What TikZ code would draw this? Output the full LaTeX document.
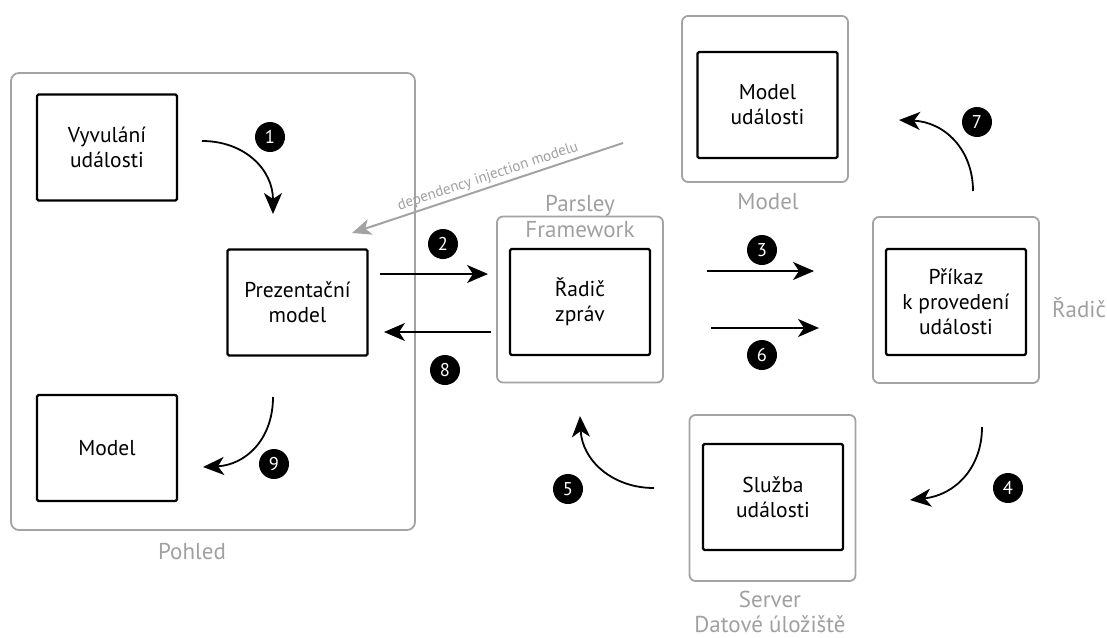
\documentclass[tikz,border=0pt]{standalone}
\usepackage{fontspec}
\setmainfont{PT Sans}
\usetikzlibrary{arrows.meta}
\definecolor{framegray}{HTML}{A3A3A3}
\definecolor{labelgray}{HTML}{A0A0A0}
\begin{document}
\begin{tikzpicture}[x=1pt,y=-1pt,
  inner/.style={draw=black,line width=2.2pt,rounded corners=1.5pt,fill=white,
    minimum width=140pt,minimum height=106pt,align=center,
    font=\fontsize{21.5}{25}\selectfont},
  outer/.style={draw=framegray,line width=1.8pt,rounded corners=6pt,
    minimum width=166pt,minimum height=166pt},
  grouplabel/.style={text=labelgray,anchor=base,inner sep=0pt,
    font=\fontsize{23}{26}\selectfont},
  stepnum/.style={circle,fill=black,text=white,inner sep=0pt,minimum size=30pt,
    font=\fontsize{18.5}{18.5}\selectfont},
  flow/.style={line width=1.8pt,-{Stealth[length=21pt,width=18pt,inset=6pt]}},
  inject/.style={draw=framegray,line width=2pt,-{Stealth[length=19pt,width=16pt,inset=5pt]}}]
\useasboundingbox (0,0) rectangle (1107,637);

% View group
\draw[draw=framegray,line width=1.8pt,rounded corners=8pt] (11,73) rectangle (415,530);
\node[grouplabel] (lview) at (192,559) {Pohled};
\node[inner] (trigger) at (107,147.5) {Vyvulání\\události};
\node[inner] (pm) at (297.5,302.5) {Prezentační\\model};
\node[inner] (vmodel) at (107,448) {Model};

% Parsley framework
\node[outer] (gparsley) at (580,299.5) {};
\node[grouplabel] (lparsley1) at (580,211) {Parsley};
\node[grouplabel] (lparsley2) at (580,237) {Framework};
\node[inner] (dispatcher) at (580,302) {Řadič\\zpráv};

% Model
\node[outer] (gmodel) at (765,99) {};
\node[grouplabel] (lmodel) at (768,209) {Model};
\node[inner] (evmodel) at (767.5,105) {Model\\události};

% Controller
\node[outer] (gctrl) at (956,300) {};
\node[grouplabel,anchor=base west] (lctrl) at (1052,317) {Řadič};
\node[inner] (command) at (956,302) {Příkaz\\k provedení\\události};

% Server
\node[outer] (gserver) at (772.5,498) {};
\node[grouplabel] (lserver1) at (770,607) {Server};
\node[grouplabel] (lserver2) at (770,632) {Datové úložiště};
\node[inner] (service) at (773,497) {Služba\\události};

% step arrows
\coordinate (s1a) at (202,141);  \coordinate (s1b) at (273,214);
\coordinate (s2a) at (380,274);  \coordinate (s2b) at (488,274);
\coordinate (s3a) at (707,271);  \coordinate (s3b) at (814,271);
\coordinate (s4a) at (982,427);  \coordinate (s4b) at (910,500);
\coordinate (s5a) at (654,488);  \coordinate (s5b) at (580,416);
\coordinate (s6a) at (711,328);  \coordinate (s6b) at (819,328);
\coordinate (s7a) at (973,191);  \coordinate (s7b) at (899,120);
\coordinate (s8a) at (491,332);  \coordinate (s8b) at (384,332);
\coordinate (s9a) at (273,397);  \coordinate (s9b) at (203,467);

\draw[flow] (s1a) .. controls (245,141) and (273,170) .. (s1b);
\draw[flow] (s2a) -- (s2b);
\draw[flow] (s3a) -- (s3b);
\draw[flow] (s4a) .. controls (982,468) and (955,495) .. (s4b);
\draw[flow] (s5a) .. controls (612,488) and (582,460) .. (s5b);
\draw[flow] (s6a) -- (s6b);
\draw[flow] (s7a) .. controls (973,150) and (945,122) .. (s7b);
\draw[flow] (s8a) -- (s8b);
\draw[flow] (s9a) .. controls (273,440) and (245,465) .. (s9b);

\node[stepnum] (n1) at (270,137) {1};
\node[stepnum] (n2) at (443,244) {2};
\node[stepnum] (n3) at (762,250) {3};
\node[stepnum] (n4) at (1008,488) {4};
\node[stepnum] (n5) at (568,489) {5};
\node[stepnum] (n6) at (762,355) {6};
\node[stepnum] (n7) at (977,122) {7};
\node[stepnum] (n8) at (445,370) {8};
\node[stepnum] (n9) at (274,464) {9};

% dependency injection
\coordinate (dia) at (623,143);
\coordinate (dib) at (352,233);
\draw[inject] (dia) -- (dib);
\node[text=labelgray,inner sep=0pt,font=\fontsize{15}{15}\selectfont,rotate=18.4] (dilabel) at (488,177) {dependency injection modelu};
\end{tikzpicture}
\end{document}
